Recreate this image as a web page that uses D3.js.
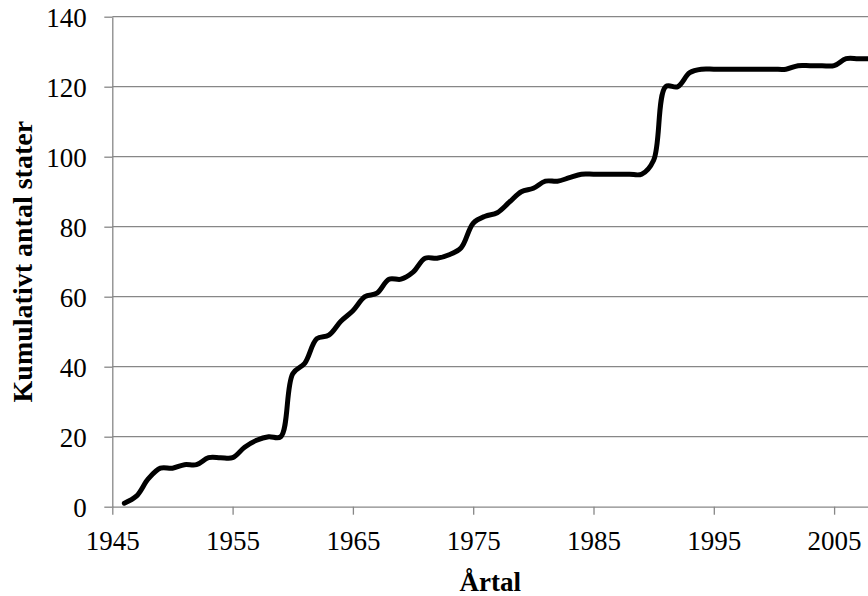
<!DOCTYPE html>
<html>
<head>
<meta charset="utf-8">
<script src="https://cdn.jsdelivr.net/npm/d3@7"></script>
<style>
  html, body { margin: 0; padding: 0; background: #fff; }
  svg { display: block; }
  text { font-family: "Liberation Serif", "Times New Roman", serif; fill: #000; }
</style>
</head>
<body>
<figure id="chart" style="margin:0"></figure>
<script>
// years on the category axis
const years = [
  1946, 1947, 1948, 1949, 1950, 1951, 1952, 1953, 1954, 1955,
  1956, 1957, 1958, 1959, 1960, 1961, 1962, 1963, 1964, 1965,
  1966, 1967, 1968, 1969, 1970, 1971, 1972, 1973, 1974, 1975,
  1976, 1977, 1978, 1979, 1980, 1981, 1982, 1983, 1984, 1985,
  1986, 1987, 1988, 1989, 1990, 1991, 1992, 1993, 1994, 1995,
  1996, 1997, 1998, 1999, 2000, 2001, 2002, 2003, 2004, 2005,
  2006, 2007, 2008
];

// cumulative number of states
const states = [
  1, 3, 8, 11, 11, 12, 12, 14, 14, 14,
  17, 19, 20, 20, 38, 41, 48, 49, 53, 56,
  60, 61, 65, 65, 67, 71, 71, 72, 74, 81,
  83, 84, 87, 90, 91, 93, 93, 94, 95, 95,
  95, 95, 95, 95, 99, 120, 120, 124, 125, 125,
  125, 125, 125, 125, 125, 125, 126, 126, 126, 126,
  128, 128, 128
];

const xTicks = [1945, 1955, 1965, 1975, 1985, 1995, 2005];
const yTicks = [0, 20, 40, 60, 80, 100, 120, 140];

const xTitle = "Årtal";
const yTitle = "Kumulativt antal stater";

const width = 868;
const height = 596;
const margin = { top: 16.7, left: 112.3, bottom: 89.3 };
const gridColor = "#878787";

const svg = d3.select("figure#chart")
  .append("svg")
  .attr("width", width)
  .attr("height", height);

// x: one year is about 12 px, axis starts at 1945
const x = d3.scaleLinear()
  .domain([1945, 2008])
  .range([margin.left, margin.left + 63 * 12.03]);

const y = d3.scaleLinear()
  .domain([0, 140])
  .range([height - margin.bottom, margin.top]);

// horizontal gridlines
svg.append("g")
  .selectAll("line")
  .data(yTicks.filter(d => d > 0))
  .enter()
  .append("line")
  .attr("x1", x(1945))
  .attr("x2", x(2008))
  .attr("y1", d => y(d))
  .attr("y2", d => y(d))
  .attr("stroke", gridColor)
  .attr("stroke-width", 1.3);

// y axis
const yAxis = svg.append("g")
  .attr("transform", `translate(${x(1945)},0)`)
  .call(d3.axisLeft(y).tickValues(yTicks).tickSize(8).tickSizeOuter(0).tickPadding(17.5));
yAxis.select(".domain").attr("stroke", gridColor).attr("stroke-width", 1.3);
yAxis.selectAll(".tick line").attr("stroke", gridColor).attr("stroke-width", 1.3);
yAxis.selectAll("text")
  .style("font-size", "27px")
  .attr("dy", "0.36em");

// x axis
const xAxis = svg.append("g")
  .attr("transform", `translate(0,${y(0)})`)
  .call(d3.axisBottom(x).tickValues(xTicks).tickFormat(d3.format("d")).tickSize(8).tickSizeOuter(0).tickPadding(16));
xAxis.select(".domain").attr("stroke", gridColor).attr("stroke-width", 1.3);
xAxis.selectAll(".tick line").attr("stroke", gridColor).attr("stroke-width", 1.3);
xAxis.selectAll("text")
  .style("font-size", "27px");

// the line, smoothed like the spreadsheet original
const line = d3.line()
  .x((d, i) => x(years[i]))
  .y(d => y(d))
  .curve(d3.curveCatmullRom.alpha(0.5));

svg.append("path")
  .datum(states)
  .attr("d", line)
  .attr("fill", "none")
  .attr("stroke", "#000")
  .attr("stroke-width", 5)
  .attr("stroke-linejoin", "round")
  .attr("stroke-linecap", "round");

// axis titles
svg.append("text")
  .attr("x", (x(1945) + width) / 2)
  .attr("y", 591)
  .attr("text-anchor", "middle")
  .style("font-size", "27px")
  .style("font-weight", "bold")
  .text(xTitle);

svg.append("text")
  .attr("transform", `translate(32,${(y(0) + y(140)) / 2}) rotate(-90)`)
  .attr("text-anchor", "middle")
  .style("font-size", "28px")
  .style("font-weight", "bold")
  .text(yTitle);
</script>
</body>
</html>
